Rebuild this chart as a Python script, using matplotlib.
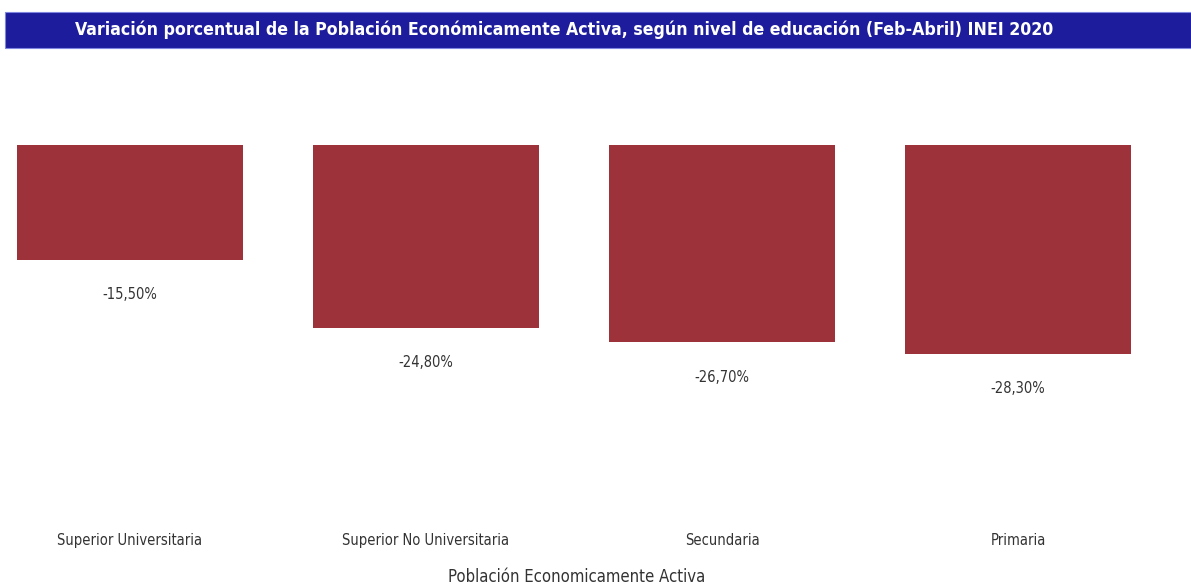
import matplotlib
matplotlib.use("Agg")
import matplotlib.pyplot as plt
from matplotlib.patches import Rectangle

categories = ["Superior Universitaria", "Superior No Universitaria", "Secundaria", "Primaria"]
values = [-15.5, -24.8, -26.7, -28.3]
value_labels = ["-15,50%", "-24,80%", "-26,70%", "-28,30%"]

title = "Variación porcentual de la Población Económicamente Activa, según nivel de educación (Feb-Abril) INEI 2020"
x_title = "Población Economicamente Activa"

font = "DejaVu Sans"
bar_color = "#9e323b"
txt_color = "#333333"

fig = plt.figure(figsize=(11.91, 5.88), dpi=100)

# title band
fig.patches.append(Rectangle((0.004, 0.918), 0.996, 0.062, transform=fig.transFigure,
                             facecolor="#1c1c9c", edgecolor="#7f86e0", linewidth=0.8,
                             zorder=0))
fig.text(0.474, 0.949, title, color="white", fontsize=12.7, fontweight="bold",
         family=font, fontstretch="condensed", ha="center", va="center")

ax = fig.add_axes([11.6 / 1191, 73.5 / 588, 1169.2 / 1191, 369.5 / 588])
xs = list(range(len(categories)))
bars = ax.bar(xs, values, width=0.764, color=bar_color)
for b, lab in zip(bars, value_labels):
    ax.annotate(lab, (b.get_x() + b.get_width() / 2, b.get_height()),
                xytext=(0, -25), textcoords="offset points", ha="center", va="center",
                fontsize=10.5, family=font, fontstretch="condensed", color=txt_color)

ax.set_xlim(-0.4, 3.55)
ax.set_ylim(-50, 0)
ax.set_xticks(xs)
ax.set_xticklabels(categories, fontsize=10.5, family=font, fontstretch="condensed",
                   color=txt_color)
ax.tick_params(axis="x", length=0, pad=13)
ax.set_yticks([])
for s in ax.spines.values():
    s.set_visible(False)
ax.set_xlabel(x_title, fontsize=12, family=font, fontstretch="condensed", color=txt_color)
ax.xaxis.set_label_coords(0.4836, -0.168)
ax.xaxis.label.set_va("center")

fig.savefig("out.png", dpi=100)
